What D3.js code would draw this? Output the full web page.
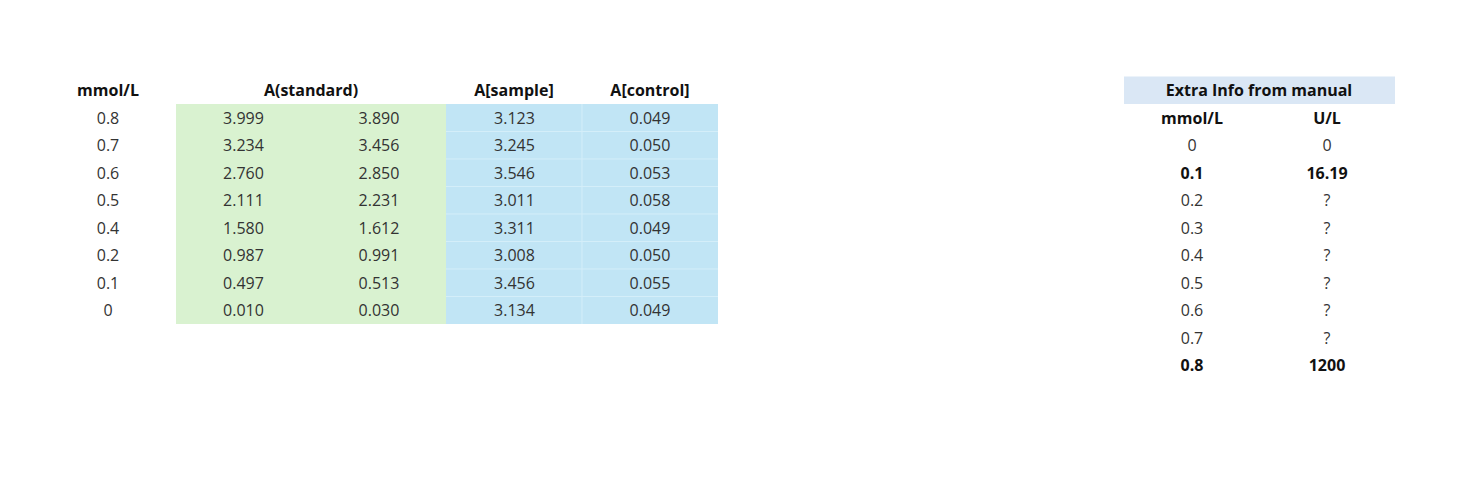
<!DOCTYPE html>
<html><head><meta charset="utf-8">
<script src="https://cdn.jsdelivr.net/npm/d3@7"></script>
<style>body{margin:0;background:#fff}text{font-family:"Open Sans","Liberation Sans",sans-serif;font-size:16px}</style>
</head><body><svg id="c" width="1473" height="498"></svg>
<script>
const conc = ["0.8","0.7","0.6","0.5","0.4","0.2","0.1","0"];
const std1 = ["3.999","3.234","2.760","2.111","1.580","0.987","0.497","0.010"];
const std2 = ["3.890","3.456","2.850","2.231","1.612","0.991","0.513","0.030"];
const sample = ["3.123","3.245","3.546","3.011","3.311","3.008","3.456","3.134"];
const control = ["0.049","0.050","0.053","0.058","0.049","0.050","0.055","0.049"];
const extraConc = ["0","0.1","0.2","0.3","0.4","0.5","0.6","0.7","0.8"];
const extraUL = ["0","16.19","?","?","?","?","?","?","1200"];
const extraBold = [false,true,false,false,false,false,false,false,true];

const svg = d3.select("#c");
const rowY = d3.scaleBand().domain(d3.range(-1,10)).range([76.5,379]);
const colX = d3.scalePoint().domain(["c","s1","s2","sa","co"]).range([108,650]);
// backgrounds
svg.append("rect").attr("x",176).attr("y",rowY(0)).attr("width",270).attr("height",rowY.bandwidth()*8).attr("fill","#d9f2d0");
svg.append("rect").attr("x",446).attr("y",rowY(0)).attr("width",272).attr("height",rowY.bandwidth()*8).attr("fill","#c1e5f5");
for(let i=1;i<8;i++) svg.append("line").attr("x1",446).attr("x2",718).attr("y1",rowY(i)).attr("y2",rowY(i)).attr("stroke","#d4eef9").attr("stroke-width",1);
svg.append("line").attr("x1",582).attr("x2",582).attr("y1",rowY(0)).attr("y2",rowY(8)).attr("stroke","#d4eef9");
svg.append("rect").attr("x",1124).attr("y",rowY(-1)).attr("width",271).attr("height",rowY.bandwidth()).attr("fill","#dae7f5");

function t(x,y,s,bold){svg.append("text").attr("x",x).attr("y",y).attr("text-anchor","middle").attr("dominant-baseline","central")
  .attr("fill",bold?"#111":"#333").attr("font-weight",bold?"bold":"normal").text(s);}
const cy = i=>rowY(i)+rowY.bandwidth()/2;
t(108,cy(-1),"mmol/L",true);
t(311,cy(-1),"A(standard)",true);
t(514,cy(-1),"A[sample]",true);
t(650,cy(-1),"A[control]",true);
conc.forEach((c,i)=>{
  t(colX("c"),cy(i),c);t(colX("s1"),cy(i),std1[i]);t(colX("s2"),cy(i),std2[i]);
  t(colX("sa"),cy(i),sample[i]);t(colX("co"),cy(i),control[i]);
});
t(1259,cy(-1),"Extra Info from manual",true);
t(1192,cy(0),"mmol/L",true);t(1327,cy(0),"U/L",true);
extraConc.forEach((c,i)=>{t(1192,cy(i+1),c,extraBold[i]);t(1327,cy(i+1),extraUL[i],extraBold[i]);});
</script></body></html>
